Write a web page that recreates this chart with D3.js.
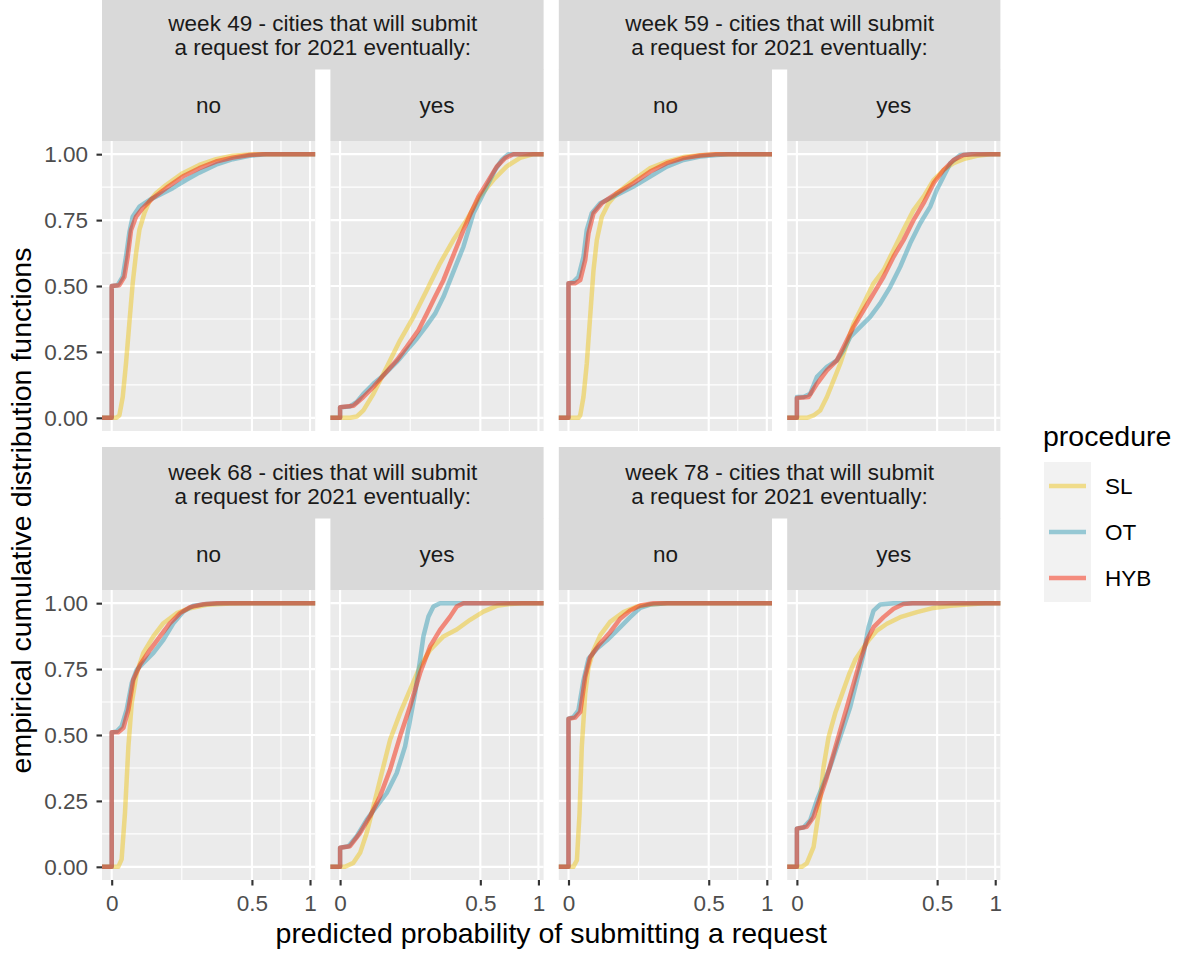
<!DOCTYPE html>
<html>
<head>
<meta charset="utf-8">
<script src="https://cdn.jsdelivr.net/npm/d3@7"></script>
<style>
  body { margin: 0; background: #ffffff; }
  svg text { font-family: "Liberation Sans", Arial, Helvetica, sans-serif; }
</style>
</head>
<body>
<svg id="chart" width="1186" height="958"></svg>
<script>
// ---- data -----------------------------------------------------------
const weeks = [49, 59, 68, 78];
const answers = ["no", "yes"];
const procedures = ["SL", "OT", "HYB"];
const procColors = ["#EEC622", "#3A9EB6", "#F6260A"];
const yTicks = [0, 0.25, 0.5, 0.75, 1];
const yTickLabels = ["0.00", "0.25", "0.50", "0.75", "1.00"];
const xTicks = [0, 0.5, 1];
const xTickLabels = ["0", "0.5", "1"];
const xDataMax = 0.955; // largest predicted probability in the data

// ecdf points [predicted probability, cumulative share]
const w49no = {
    SL: [[0.0005,0],[0.0015,0.009],[0.0031,0.079],[0.0052,0.206],[0.0079,0.358],[0.0112,0.51],[0.0151,0.624],[0.0195,0.713],[0.0271,0.776],[0.036,0.821],[0.05,0.852],[0.075,0.883],[0.128,0.928],[0.195,0.959],[0.277,0.981],[0.372,0.994],[0.482,0.999],[0.6,1]],
    OT: [[0,0],[0,0.5],[0.0009,0.503],[0.0031,0.535],[0.0052,0.611],[0.0079,0.702],[0.0112,0.763],[0.0195,0.801],[0.036,0.826],[0.0578,0.845],[0.0946,0.871],[0.1405,0.902],[0.1954,0.93],[0.2767,0.96],[0.372,0.981],[0.482,0.994],[0.606,1]],
    HYB: [[0,0],[0,0.5],[0.0015,0.503],[0.0041,0.535],[0.0065,0.611],[0.0095,0.712],[0.0151,0.763],[0.0244,0.795],[0.0427,0.833],[0.075,0.871],[0.128,0.915],[0.1954,0.947],[0.2767,0.972],[0.372,0.987],[0.482,0.997],[0.58,1]]
};
const w49yes = {
    SL: [[0.0025,0],[0.0071,0.005],[0.0138,0.028],[0.0282,0.091],[0.0554,0.193],[0.0915,0.294],[0.137,0.383],[0.191,0.484],[0.254,0.586],[0.3265,0.675],[0.408,0.751],[0.498,0.84],[0.598,0.903],[0.706,0.954],[0.824,0.986],[0.95,1]],
    OT: [[0,0],[0,0.04],[0.0025,0.043],[0.0071,0.06],[0.0138,0.091],[0.0282,0.129],[0.0477,0.161],[0.0816,0.212],[0.113,0.256],[0.1494,0.3],[0.191,0.351],[0.2294,0.395],[0.2715,0.459],[0.3076,0.522],[0.346,0.586],[0.3867,0.649],[0.4187,0.712],[0.452,0.776],[0.51,0.839],[0.559,0.89],[0.611,0.94],[0.664,0.978],[0.72,1]],
    HYB: [[0,0],[0,0.04],[0.0045,0.046],[0.0138,0.079],[0.0282,0.117],[0.0477,0.161],[0.0816,0.218],[0.113,0.269],[0.156,0.332],[0.191,0.395],[0.2294,0.459],[0.2715,0.522],[0.3076,0.586],[0.346,0.649],[0.3867,0.712],[0.434,0.776],[0.4865,0.839],[0.547,0.89],[0.624,0.953],[0.692,0.985],[0.764,1]]
};
const w59no = {
    SL: [[0.0025,0],[0.0035,0.009],[0.0057,0.079],[0.0085,0.205],[0.0119,0.383],[0.0159,0.56],[0.0204,0.674],[0.0282,0.763],[0.0407,0.814],[0.0594,0.852],[0.1074,0.902],[0.1696,0.947],[0.2458,0.972],[0.336,0.989],[0.44,0.996],[0.56,1]],
    OT: [[0,0],[0,0.51],[0.0006,0.516],[0.0025,0.535],[0.0057,0.611],[0.0085,0.713],[0.0138,0.776],[0.0255,0.814],[0.0594,0.845],[0.1074,0.877],[0.1696,0.915],[0.2458,0.953],[0.336,0.978],[0.44,0.991],[0.559,0.997],[0.65,1]],
    HYB: [[0,0],[0,0.51],[0.0011,0.51],[0.0035,0.522],[0.0071,0.598],[0.0102,0.7],[0.0159,0.776],[0.0282,0.814],[0.0594,0.852],[0.1074,0.89],[0.1696,0.934],[0.2458,0.966],[0.336,0.985],[0.44,0.995],[0.55,1]]
};
const w59yes = {
    SL: [[0.0025,0],[0.0071,0.009],[0.0138,0.028],[0.0229,0.079],[0.0342,0.142],[0.0477,0.205],[0.0636,0.281],[0.0816,0.357],[0.113,0.433],[0.1494,0.51],[0.191,0.56],[0.2376,0.637],[0.289,0.713],[0.346,0.788],[0.408,0.839],[0.475,0.902],[0.547,0.94],[0.624,0.966],[0.706,0.981],[0.824,0.994],[0.95,1]],
    OT: [[0,0],[0,0.079],[0.0011,0.079],[0.0045,0.091],[0.0102,0.155],[0.0229,0.193],[0.0407,0.218],[0.0554,0.256],[0.0723,0.307],[0.102,0.345],[0.1367,0.383],[0.1765,0.434],[0.2215,0.497],[0.2715,0.573],[0.3265,0.662],[0.3867,0.738],[0.452,0.801],[0.498,0.865],[0.547,0.915],[0.598,0.966],[0.678,0.997],[0.764,1]],
    HYB: [[0,0],[0,0.075],[0.0035,0.079],[0.0102,0.129],[0.0229,0.18],[0.0407,0.218],[0.0554,0.269],[0.0816,0.345],[0.113,0.408],[0.1494,0.471],[0.191,0.535],[0.2376,0.611],[0.289,0.674],[0.346,0.75],[0.408,0.814],[0.475,0.89],[0.547,0.94],[0.624,0.978],[0.706,0.997],[0.78,1]]
};
const w68no = {
    SL: [[0.0011,0],[0.0025,0.028],[0.0045,0.205],[0.0071,0.457],[0.0102,0.621],[0.0159,0.735],[0.0255,0.811],[0.0441,0.874],[0.0679,0.924],[0.1074,0.962],[0.156,0.981],[0.229,0.994],[0.356,0.999],[0.45,1]],
    OT: [[0,0],[0,0.51],[0.0006,0.513],[0.0025,0.533],[0.0057,0.596],[0.0102,0.697],[0.0159,0.747],[0.0255,0.773],[0.0441,0.811],[0.0679,0.861],[0.0967,0.924],[0.1306,0.968],[0.1696,0.99],[0.229,0.997],[0.317,1]],
    HYB: [[0,0],[0,0.51],[0.0011,0.51],[0.0035,0.527],[0.0071,0.596],[0.0119,0.71],[0.0204,0.766],[0.0374,0.823],[0.0594,0.874],[0.0865,0.924],[0.1187,0.962],[0.156,0.985],[0.2136,0.996],[0.28,1]]
};
const w68yes = {
    SL: [[0.0006,0],[0.0045,0.015],[0.0102,0.053],[0.0181,0.129],[0.0342,0.28],[0.0477,0.381],[0.0636,0.482],[0.0915,0.583],[0.1246,0.672],[0.1627,0.76],[0.206,0.823],[0.2715,0.874],[0.346,0.9],[0.43,0.937],[0.522,0.968],[0.624,0.99],[0.735,0.997],[0.85,1]],
    OT: [[0,0],[0,0.072],[0.0018,0.078],[0.0071,0.116],[0.0181,0.179],[0.0342,0.23],[0.0554,0.28],[0.0816,0.356],[0.1074,0.457],[0.1246,0.558],[0.143,0.659],[0.1627,0.785],[0.1765,0.874],[0.1984,0.949],[0.2215,0.987],[0.254,1]],
    HYB: [[0,0],[0,0.072],[0.0025,0.078],[0.0102,0.129],[0.0229,0.192],[0.0407,0.268],[0.0636,0.369],[0.0915,0.495],[0.1246,0.609],[0.1627,0.735],[0.206,0.836],[0.254,0.899],[0.3076,0.949],[0.346,0.987],[0.387,1]]
};
const w78no = {
    SL: [[0.0006,0],[0.0018,0.025],[0.0031,0.202],[0.0045,0.455],[0.0071,0.657],[0.0102,0.758],[0.0159,0.821],[0.0255,0.878],[0.0441,0.929],[0.0769,0.966],[0.1187,0.987],[0.1696,0.995],[0.25,1]],
    OT: [[0,0],[0,0.562],[0.0006,0.568],[0.0025,0.593],[0.0057,0.707],[0.0102,0.789],[0.0204,0.827],[0.0374,0.859],[0.0594,0.896],[0.0967,0.947],[0.1306,0.982],[0.1696,0.995],[0.2458,1]],
    HYB: [[0,0],[0,0.562],[0.0011,0.566],[0.0035,0.587],[0.0071,0.72],[0.0119,0.795],[0.0229,0.84],[0.0441,0.89],[0.0679,0.941],[0.0967,0.972],[0.1306,0.991],[0.1837,1]]
};
const w78yes = {
    SL: [[0.0006,0],[0.0025,0.013],[0.0071,0.076],[0.0119,0.202],[0.0181,0.379],[0.0255,0.492],[0.0374,0.583],[0.0554,0.672],[0.0705,0.735],[0.0865,0.785],[0.1074,0.823],[0.1306,0.859],[0.1627,0.896],[0.206,0.922],[0.2715,0.947],[0.366,0.966],[0.475,0.982],[0.598,0.99],[0.764,0.996],[0.9,1]],
    OT: [[0,0],[0,0.145],[0.0011,0.149],[0.0045,0.177],[0.0102,0.253],[0.0181,0.316],[0.0282,0.379],[0.0407,0.455],[0.0554,0.53],[0.0723,0.606],[0.0915,0.707],[0.113,0.808],[0.1306,0.909],[0.1494,0.972],[0.1765,0.995],[0.2376,1]],
    HYB: [[0,0],[0,0.145],[0.0025,0.152],[0.0071,0.189],[0.0138,0.265],[0.0229,0.341],[0.0342,0.429],[0.0477,0.518],[0.0636,0.606],[0.0816,0.694],[0.102,0.783],[0.1246,0.859],[0.1494,0.909],[0.191,0.947],[0.2376,0.979],[0.289,0.997],[0.34,1]]
};
const curves = [
    { no: w49no, yes: w49yes },
    { no: w59no, yes: w59yes },
    { no: w68no, yes: w68yes },
    { no: w78no, yes: w78yes }
];

// ---- layout ---------------------------------------------------------
const panelW = 213.2, panelH = 290, step = 228.4, left0 = 102;
const rowTop = [-2, 447];          // top of the strips for each row
const stripH1 = 71, stripH2 = 72;
const smallFont = "22.5px", titleFont = "28.5px";

const svg = d3.select("#chart");

// x is on a square-root scale, expanded 5% on both sides (in sqrt space)
const sMax = Math.sqrt(xDataMax), sPad = 0.05 * sMax;
const x = d3.scaleSqrt()
    .domain([-(sPad * sPad), Math.pow(sMax + sPad, 2)])
    .range([0, panelW]);
const y = d3.scaleLinear().domain([-0.05, 1.05]).range([panelH, 0]);

// minor breaks sit halfway between majors in transformed space
const xMinor = d3.pairs(xTicks.map(Math.sqrt)).map(p => Math.pow((p[0] + p[1]) / 2, 2));
const yMinor = d3.pairs(yTicks).map(p => (p[0] + p[1]) / 2);

const line = d3.line()
    .x(d => x(d[0]))
    .y(d => y(d[1]));

/**
 * Draws one panel (background, grid and the three ecdf lines)
 */
function drawPanel(g, data) {
    g.append("rect")
        .attr("width", panelW).attr("height", panelH)
        .attr("fill", "#EBEBEB");

    g.selectAll(".ymin").data(yMinor).enter().append("line")
        .attr("x1", 0).attr("x2", panelW)
        .attr("y1", d => y(d)).attr("y2", d => y(d))
        .attr("stroke", "#fff").attr("stroke-width", 1.07);
    g.selectAll(".xmin").data(xMinor).enter().append("line")
        .attr("y1", 0).attr("y2", panelH)
        .attr("x1", d => x(d)).attr("x2", d => x(d))
        .attr("stroke", "#fff").attr("stroke-width", 1.07);
    g.selectAll(".ymaj").data(yTicks).enter().append("line")
        .attr("x1", 0).attr("x2", panelW)
        .attr("y1", d => y(d)).attr("y2", d => y(d))
        .attr("stroke", "#fff").attr("stroke-width", 2.13);
    g.selectAll(".xmaj").data(xTicks).enter().append("line")
        .attr("y1", 0).attr("y2", panelH)
        .attr("x1", d => x(d)).attr("x2", d => x(d))
        .attr("stroke", "#fff").attr("stroke-width", 2.13);

    // ecdf lines run from -Inf (at 0) to +Inf (at 1)
    let lo = x.domain()[0], hi = x.domain()[1];
    procedures.forEach(function (p, k) {
        let pts = [[lo, 0]].concat(data[p], [[hi, 1]]);
        g.append("path")
            .datum(pts)
            .attr("d", line)
            .attr("fill", "none")
            .attr("stroke", procColors[k])
            .attr("stroke-opacity", 0.5)
            .attr("stroke-width", 4.5)
            .attr("stroke-linejoin", "round");
    });
}

function styleAxis(ax) {
    ax.select(".domain").remove();
    ax.selectAll(".tick line").attr("stroke", "#333333").attr("stroke-width", 2.13);
    ax.selectAll(".tick text")
        .attr("fill", "#4D4D4D")
        .style("font-size", smallFont);
}

weeks.forEach(function (wk, i) {
    let r = Math.floor(i / 2), c = i % 2;
    let top = rowTop[r];
    let panelTop = top + stripH1 + stripH2;

    // week strip across both panels
    let sx = left0 + 2 * c * step;
    svg.append("rect")
        .attr("x", sx).attr("y", top)
        .attr("width", step + panelW).attr("height", stripH1 + 0.5)
        .attr("fill", "#D9D9D9");
    let cx = sx + (step + panelW) / 2;
    let lines = ["week " + wk + " - cities that will submit", "a request for 2021 eventually:"];
    lines.forEach(function (t, j) {
        svg.append("text")
            .attr("x", cx).attr("y", top + 32.5 + j * 24.5)
            .attr("text-anchor", "middle")
            .attr("fill", "#1A1A1A")
            .style("font-size", smallFont)
            .text(t);
    });

    answers.forEach(function (a, j) {
        let px = left0 + (2 * c + j) * step;
        svg.append("rect")
            .attr("x", px).attr("y", top + stripH1)
            .attr("width", panelW).attr("height", stripH2)
            .attr("fill", "#D9D9D9");
        svg.append("text")
            .attr("x", px + panelW / 2).attr("y", top + 115)
            .attr("text-anchor", "middle")
            .attr("fill", "#1A1A1A")
            .style("font-size", smallFont)
            .text(a);

        let g = svg.append("g").attr("transform", "translate(" + px + "," + panelTop + ")");
        drawPanel(g, curves[i][a]);

        // y axis on the left column only
        if (c === 0 && j === 0) {
            let ay = g.append("g")
                .call(d3.axisLeft(y).tickValues(yTicks)
                    .tickFormat((d, n) => yTickLabels[n])
                    .tickSize(5.5).tickPadding(8.5));
            styleAxis(ay);
        }
        // x axis on the bottom row only
        if (r === 1) {
            let ax = g.append("g")
                .attr("transform", "translate(0," + panelH + ")")
                .call(d3.axisBottom(x).tickValues(xTicks)
                    .tickFormat((d, n) => xTickLabels[n])
                    .tickSize(5.5).tickPadding(10));
            styleAxis(ax);
        }
    });
});

// axis titles
let panelsTop = rowTop[0] + stripH1 + stripH2;
let panelsBottom = rowTop[1] + stripH1 + stripH2 + panelH;
svg.append("text")
    .attr("x", left0 + (3 * step + panelW) / 2).attr("y", 943)
    .attr("text-anchor", "middle")
    .style("font-size", titleFont)
    .text("predicted probability of submitting a request");
svg.append("text")
    .attr("transform", "translate(31," + (panelsTop + panelsBottom) / 2 + ") rotate(-90)")
    .attr("text-anchor", "middle")
    .style("font-size", titleFont)
    .text("empirical cumulative distribution functions");

// legend
let leg = svg.append("g").attr("transform", "translate(1044,0)");
leg.append("text")
    .attr("x", -1).attr("y", 446)
    .style("font-size", titleFont)
    .text("procedure");
leg.append("rect")
    .attr("x", 0).attr("y", 462)
    .attr("width", 47).attr("height", 140)
    .attr("fill", "#F2F2F2");
procedures.forEach(function (p, k) {
    let cy = 486 + k * 46;
    leg.append("line")
        .attr("x1", 5).attr("x2", 42)
        .attr("y1", cy).attr("y2", cy)
        .attr("stroke", procColors[k])
        .attr("stroke-opacity", 0.5)
        .attr("stroke-width", 4.5);
    leg.append("text")
        .attr("x", 61).attr("y", cy + 8)
        .style("font-size", smallFont)
        .text(p);
});
</script>
</body>
</html>
